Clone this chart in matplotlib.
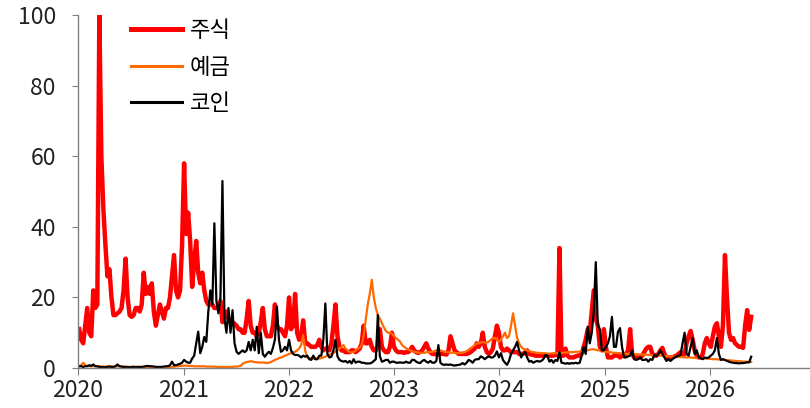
import numpy as np
import pandas as pd
import matplotlib
matplotlib.use('Agg')
import matplotlib.pyplot as plt
import matplotlib.dates as mdates

plt.rcParams['font.family'] = ['Noto Sans CJK KR', 'DejaVu Sans']

# weekly search interest, first week = 2020-01-05
start = '2020-01-05'

stock = [
    11, 8, 7, 12, 17, 10, 9, 22, 17, 18,
    100, 60, 45, 35, 26, 28, 20, 15, 15, 15.5,
    16, 17, 22, 31, 20, 15, 14.5, 15, 17, 17,
    16, 18, 27, 21, 23, 21, 24, 16, 12, 15,
    18, 16, 14, 17, 17, 20, 26, 32, 22, 20,
    22, 35, 58, 38, 44, 36, 23, 30, 36, 27,
    24, 27, 22, 19, 18, 18, 18, 17, 17, 17,
    19, 13, 15, 16, 14, 13, 13, 12.5, 12, 11,
    11, 10, 10, 14, 19, 12, 10, 10, 9, 10,
    13, 17, 11, 9, 9, 9, 12, 18, 12, 11,
    11, 10, 9, 12, 20, 11, 12, 21, 10, 8,
    9, 13.5, 7, 7, 6.5, 6, 6, 6, 6.5, 8,
    6, 5, 5.5, 5.5, 5, 7, 12, 18, 9, 6,
    5, 5, 4.5, 4.5, 4.5, 5, 5, 4.5, 5, 5.5,
    7, 12, 7, 7, 8, 6, 5, 5, 6, 11,
    6, 5, 4.5, 4.5, 6, 10, 6, 5, 4.5, 4.5,
    4.5, 4.3, 4.5, 4.5, 5, 6, 5, 4.5, 4.3, 4.5,
    5, 6, 7, 5.5, 4.5, 4, 4, 3.8, 3.8, 4,
    4, 4, 3.8, 5, 9, 7, 5, 4.5, 4, 4,
    4, 4, 4, 4.2, 4.5, 5, 5.5, 7, 6, 7,
    10, 6, 4.5, 4, 4.5, 5.5, 9, 12, 10, 6,
    5, 5, 5.5, 5, 4.5, 4.5, 4.5, 4.5, 4, 4,
    4, 4.5, 5, 4, 3.8, 3.8, 3.5, 3.5, 3.5, 3.5,
    3.5, 3.5, 3.5, 3.5, 3.5, 3.5, 3.7, 3.7, 34, 3.5,
    3.5, 5.5, 3.5, 3, 3, 3, 3.3, 3.5, 3.5, 4,
    6, 8, 11, 10, 16, 22, 14, 12, 6, 5,
    11, 6, 3, 3, 3, 3.5, 3.5, 3.5, 3, 3.5,
    3.5, 4, 5, 11, 4, 3, 3, 3, 3, 3.5,
    4.5, 5.5, 6, 6, 4, 3.5, 3.5, 4, 5, 5.7,
    4, 3, 3, 3, 3, 3.3, 3.5, 4, 4.5, 3.5,
    4, 7, 9, 10.5, 8, 5, 3.5, 3, 3, 4,
    7, 8.5, 7, 6, 9, 11.7, 12.7, 9, 6, 12,
    32, 20, 10, 8, 8.5, 7, 6.5, 6, 6, 5.7,
    12, 16.4, 10.8, 14.5,
]

deposit = [
    0.5, 0.8, 1.5, 0.8, 0.6, 0.5, 0.5, 0.6, 0.5, 0.5,
    0.5, 0.4, 0.4, 0.4, 0.5, 0.5, 0.5, 0.4, 0.4, 0.5,
    0.5, 0.4, 0.4, 0.4, 0.3, 0.3, 0.3, 0.4, 0.4, 0.3,
    0.3, 0.3, 0.3, 0.4, 0.3, 0.3, 0.3, 0.3, 0.3, 0.3,
    0.3, 0.3, 0.3, 0.3, 0.3, 0.3, 0.3, 0.4, 0.5, 0.5,
    0.6, 0.6, 0.7, 0.7, 0.6, 0.6, 0.6, 0.5, 0.5, 0.5,
    0.5, 0.5, 0.5, 0.4, 0.4, 0.4, 0.4, 0.4, 0.3, 0.3,
    0.3, 0.3, 0.3, 0.3, 0.3, 0.3, 0.3, 0.4, 0.4, 0.5,
    0.6, 1.2, 1.5, 1.7, 1.8, 1.9, 1.8, 1.7, 1.6, 1.6,
    1.5, 1.6, 1.5, 1.4, 1.5, 1.7, 2, 2.3, 2.5, 2.8,
    3, 3.2, 3.5, 3.7, 4, 4.2, 4.5, 4.6, 5, 5.5,
    6.5, 9.3, 5, 3, 2.8, 2.8, 2.6, 2.7, 2.8, 2.7,
    2.8, 3, 3.2, 3.5, 3.8, 4, 4.3, 4.6, 5, 5.5,
    6, 6.5, 5.5, 5, 4.5, 4.5, 4.5, 5, 5.5, 5.7,
    6.5, 9.3, 13.6, 18, 21, 25, 20, 17, 15, 14,
    12.7, 11.5, 10.5, 10, 10, 9.8, 9, 8.5, 8, 7.5,
    6.5, 6, 5.6, 5.3, 5, 4.8, 4.6, 4.5, 4.4, 4.3,
    4.3, 4.3, 4.5, 4.5, 4.5, 4.6, 4.8, 5, 5, 5,
    4.8, 4.6, 4.5, 4.5, 4.4, 4.3, 4.3, 4.2, 4.2, 4.3,
    4.3, 4.5, 4.8, 5.2, 5.6, 6, 6.5, 7, 7, 7.2,
    7.4, 7.2, 7.2, 7.5, 8, 8.5, 8.5, 8, 7.4, 8,
    9, 10, 8.5, 9, 12, 15.5, 12, 8.5, 7, 6,
    5.5, 5.2, 5, 4.8, 4.6, 4.5, 4.4, 4.3, 4.3, 4.2,
    4.2, 4.2, 4.1, 4.1, 4.1, 4.2, 4.2, 4.2, 4.3, 4.3,
    4.3, 4.4, 4.4, 4.5, 4.5, 4.5, 4.6, 4.6, 4.7, 4.8,
    5, 5, 5, 5.2, 5.3, 5.3, 5.2, 5, 5, 4.8,
    4.7, 4.6, 4.5, 4.5, 4.4, 4.3, 4.3, 4.2, 4.2, 4.1,
    4.1, 4, 4, 4, 4, 3.9, 3.9, 3.9, 3.8, 3.8,
    3.8, 3.8, 3.7, 3.7, 3.6, 3.6, 3.5, 3.5, 3.5, 3.5,
    3.4, 3.4, 3.3, 3.3, 3.3, 3.2, 3.2, 3.2, 3.1, 3.1,
    3, 3, 3, 3, 2.9, 2.9, 2.8, 2.8, 2.8, 2.7,
    2.7, 2.7, 2.6, 2.6, 2.5, 2.5, 2.5, 2.4, 2.4, 2.3,
    2.3, 2.2, 2.2, 2.1, 2.1, 2, 2, 1.9, 1.9, 1.8,
    1.8, 1.8, 1.7, 1.7,
]

coin = [
    0.5, 0.5, 0.3, 0.5, 0.5, 0.8, 0.6, 1.0, 0.5, 0.5,
    0.3, 0.3, 0.3, 0.2, 0.3, 0.4, 0.3, 0.3, 0.5, 1.0,
    0.5, 0.4, 0.3, 0.3, 0.3, 0.2, 0.3, 0.3, 0.2, 0.3,
    0.3, 0.3, 0.4, 0.5, 0.6, 0.5, 0.5, 0.4, 0.3, 0.3,
    0.3, 0.3, 0.4, 0.5, 0.5, 0.8, 1.8, 0.8, 0.8, 1.0,
    1.2, 1.5, 2.3, 1.8, 1.5, 1.5, 2.7, 3.5, 7, 10.3,
    4.2, 6, 8.8, 7.4, 16, 22, 18, 41, 19, 15.5,
    20, 53, 14, 10, 17, 10, 16.4, 7, 4.6, 4,
    4.5, 5, 4.5, 5, 7.4, 5, 8, 5, 11.7, 4.2,
    10, 4, 3.2, 4, 4.6, 4, 5.7, 8, 17.4, 8,
    4.6, 5, 6, 5, 8, 5, 4, 3.7, 3.7, 3.5,
    3, 3.5, 3.2, 3.5, 2.5, 2.3, 3.5, 2.5, 2.5, 3.5,
    3.5, 8, 18.3, 4, 3, 3.2, 5, 8, 3.3, 2.3,
    2, 1.8, 2, 1.5, 2, 1.3, 2.5, 1.5, 1.8, 1.8,
    1.5, 1.5, 1.3, 1.3, 1.3, 1.5, 2, 2.5, 15, 3.3,
    1.8, 2, 2.3, 2.3, 1.5, 1.8, 1.8, 1.5, 1.5, 1.6,
    1.5, 1.5, 1.8, 1.5, 1.5, 2.3, 2.3, 1.8, 1.5, 1.4,
    2, 2.3, 1.8, 1.5, 2, 1.5, 1.5, 2, 6.5, 1.5,
    1, 0.9, 1, 0.9, 1, 0.8, 0.7, 0.8, 0.9, 1,
    1.4, 1, 1.5, 2.3, 2, 1.5, 2.3, 2.5, 2.5, 3.3,
    3, 2.5, 3, 3.3, 3, 3, 3.5, 4.7, 3, 4.2,
    2.3, 1.5, 0.9, 2, 4, 5, 6, 7.4, 5, 3,
    4, 4.5, 3, 1.8, 2, 1.5, 1.8, 2, 1.8, 2,
    2.5, 3.7, 3.5, 1.8, 2.3, 1.5, 2.3, 2, 4.5, 1.5,
    1.4, 1.2, 1.4, 1.2, 1.4, 1.3, 1.5, 1.3, 1.5, 3.5,
    6, 4, 11.7, 7, 10, 16, 30, 12, 11, 5,
    5, 6, 7, 9, 14.5, 6, 6, 10.3, 11.3, 6,
    3, 3, 3.3, 3.5, 5, 2.5, 2.3, 2.5, 3, 2.3,
    2.3, 2.5, 1.8, 2.5, 2.3, 3.7, 3.3, 4, 5, 4,
    3, 2, 2.5, 2, 2.5, 3, 3.2, 3.5, 3.7, 7,
    10, 4, 3.5, 6, 8.5, 4, 5, 3, 2.8, 2.5,
    3, 2.8, 3, 3.5, 4, 5, 8.5, 4, 2.3, 2.5,
    2.3, 2, 1.8, 1.6, 1.5, 1.4, 1.4, 1.3, 1.4, 1.4,
    1.5, 1.6, 1.6, 3.2,
]

labels = ['주식', '예금', '코인']
years = list(range(2020, 2027))

dates = pd.date_range(start, periods=len(stock), freq='7D')

fig = plt.figure(figsize=(8.1, 4.08), dpi=100)
ax = fig.add_axes([0.0963, 0.098, 0.9037, 0.865])

ax.plot(dates, stock, color='#FF0000', lw=3.2, label=labels[0], solid_joinstyle='round')
ax.plot(dates, deposit, color='#FF6A00', lw=1.6, label=labels[1])
ax.plot(dates, coin, color='#000000', lw=1.6, label=labels[2])

ax.set_ylim(0, 100)
ax.set_yticks(range(0, 101, 20))
ax.set_xlim(pd.Timestamp('2020-01-01'), pd.Timestamp('2026-12-14'))
ax.set_xticks([pd.Timestamp(f'{y}-01-01') for y in years])
ax.xaxis.set_major_formatter(mdates.DateFormatter('%Y'))

for s in ['top', 'right']:
    ax.spines[s].set_visible(False)
for s in ['left', 'bottom']:
    ax.spines[s].set_color('#808080')
    ax.spines[s].set_linewidth(1.0)
ax.tick_params(axis='both', colors='#808080', labelcolor='#222222', labelsize=16.5, direction='out')
ax.tick_params(axis='x', length=5, pad=3)
ax.tick_params(axis='y', length=4, pad=12)

leg = ax.legend(loc='upper left', bbox_to_anchor=(0.045, 1.045), frameon=False, fontsize=16,
                handlelength=2.3, labelspacing=0.6, handletextpad=0.35)
for ln, w in zip(leg.get_lines(), [3.6, 2.2, 2.2]):
    ln.set_linewidth(w)

fig.savefig('out.png', dpi=100)
